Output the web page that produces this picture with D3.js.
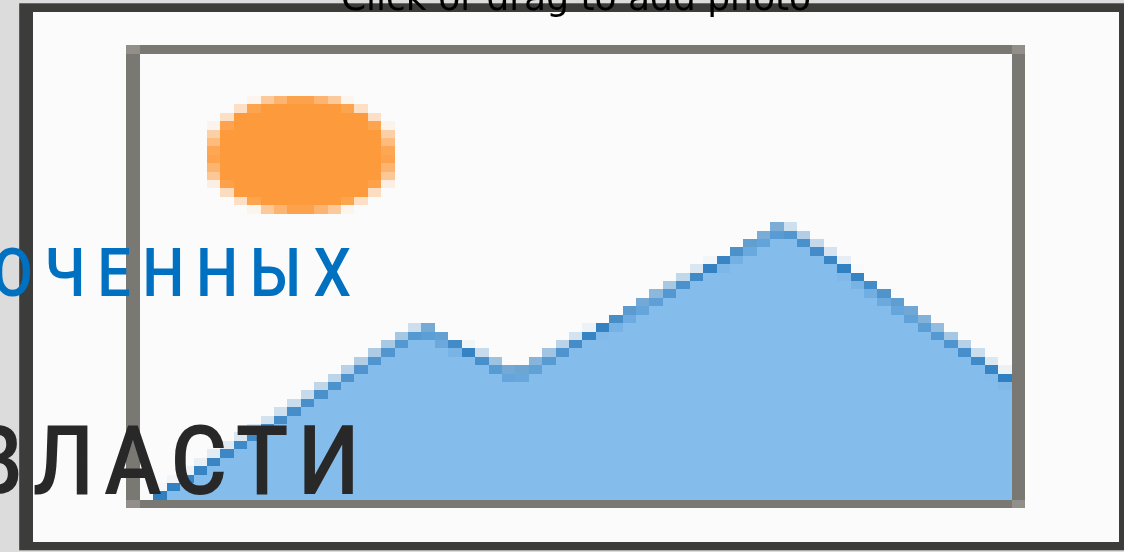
<!DOCTYPE html>
<html><head><meta charset="utf-8">
<script src="https://cdn.jsdelivr.net/npm/d3@7"></script>
<style>
html,body{margin:0;padding:0;width:1124px;height:552px;overflow:hidden;background:#dcdcdc}
#pic{position:absolute;left:0;top:0;width:1113px;height:547.3px;transform:translate(19.2px,3.3px);image-rendering:pixelated}
#txt{position:absolute;left:0;top:0}
</style></head><body>
<canvas id="pic" width="83" height="65"></canvas>
<svg id="txt" width="1124" height="552"></svg>
<script>
// Landscape profile
const ridgeX = [1, 21, 28, 48, 65.5];
const ridgeY = [0, 20.4, 14.7, 32.4, 13.4];
const sunX = [12];
const sunY = [41];
const sunR = [7];
const captionTop = ["Click or drag to add photo"];
const captionBlue = ["ОЧЕННЫХ"];
const captionDark = ["ВЛАСТИ"];

const x = d3.scaleLinear().domain([0, 65]).range([9, 74]);
const y = d3.scaleLinear().domain([0, 53]).range([59, 6]);
const ctx = document.getElementById("pic").getContext("2d");
const pts = ridgeX.map((d, i) => [d, ridgeY[i]]);

ctx.fillStyle = "#3c3c3a"; ctx.fillRect(0, 0, 83, 65);
ctx.fillStyle = "#fbfbfb"; ctx.fillRect(1, 1, 81, 63);

// sun
ctx.fillStyle = "#fd9a3c";
ctx.beginPath();
ctx.arc(x(sunX[0]), y(sunY[0]), sunR[0], 0, 2 * Math.PI);
ctx.fill();

// ridge
const area = d3.area().x(d => x(d[0])).y0(y(0)).y1(d => y(d[1])).context(ctx);
ctx.fillStyle = "#84bcec";
ctx.beginPath(); area(pts); ctx.fill();
const line = d3.line().x(d => x(d[0])).y(d => y(d[1])).context(ctx);
ctx.strokeStyle = "#2f7fc1"; ctx.lineWidth = 1;
ctx.beginPath(); line(pts); ctx.stroke();

// frame
ctx.fillStyle = "#7a7873";
ctx.fillRect(9, 5, 65, 1); ctx.fillRect(9, 59, 65, 1);
ctx.fillRect(8, 6, 1, 53); ctx.fillRect(74, 6, 1, 53);
ctx.fillStyle = "#928f8b";
[[8,5],[74,5],[8,59],[74,59]].forEach(c => ctx.fillRect(c[0], c[1], 1, 1));

// texts
const svg = d3.select("#txt");
svg.append("text").attr("x", 576).attr("y", 10).attr("text-anchor", "middle")
  .attr("font-family", "DejaVu Sans").attr("font-size", 36).attr("fill", "#000").text(captionTop[0]);
svg.append("text").attr("transform", "translate(362.5,296) scale(0.9,1)").attr("text-anchor", "end")
  .attr("font-family", "Roboto").attr("font-weight", 500).attr("font-size", 66).attr("letter-spacing", 12.9).attr("fill", "#0070c0").text(captionBlue[0]);
svg.append("text").attr("transform", "translate(369,494) scale(0.9,1)").attr("text-anchor", "end")
  .attr("font-family", "Roboto").attr("font-weight", 500).attr("font-size", 96).attr("letter-spacing", 10.9).attr("fill", "#282828").text(captionDark[0]);
</script>
</body></html>
